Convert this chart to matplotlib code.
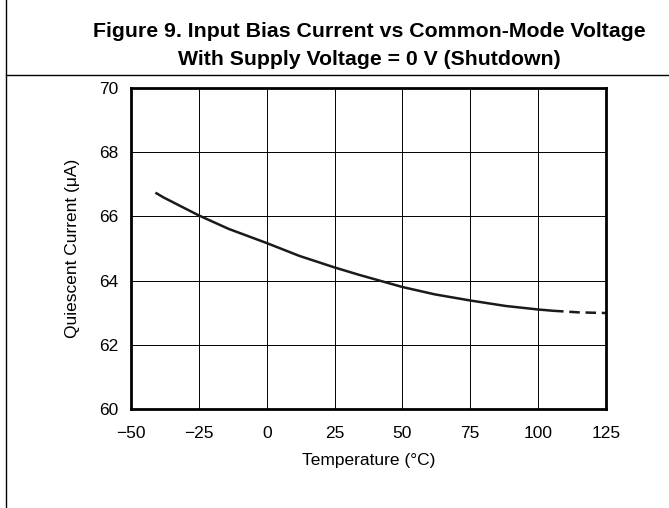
import matplotlib
matplotlib.use('Agg')
import matplotlib.pyplot as plt
from matplotlib.lines import Line2D

plt.rcParams['font.family'] = ['Liberation Sans', 'DejaVu Sans']

# values
temp_solid = [-41, -38, -25, -14, 0, 12, 25, 34, 50, 62, 75, 88, 100, 105.5]
iq_solid = [66.74, 66.59, 66.03, 65.61, 65.17, 64.77, 64.41, 64.18,
            63.80, 63.57, 63.38, 63.21, 63.10, 63.06]
temp_dash = [105.5, 115, 125]
iq_dash = [63.06, 63.01, 62.99]

x_ticks = [-50, -25, 0, 25, 50, 75, 100, 125]
x_labels = ['\u221250', '\u221225', '0', '25', '50', '75', '100', '125']
y_ticks = [60, 62, 64, 66, 68, 70]

title = ('Figure 9. Input Bias Current vs Common-Mode Voltage\n'
         'With Supply Voltage = 0 V (Shutdown)')

W, H = 669, 508
fig = plt.figure(figsize=(W / 100, H / 100), dpi=100)

# outer frame lines (left edge and line under the title)
fig.add_artist(Line2D([6.5 / W, 6.5 / W], [0, 1], transform=fig.transFigure,
                      color='black', lw=1.0))
fig.add_artist(Line2D([6.5 / W, 1], [1 - 75 / H, 1 - 75 / H],
                      transform=fig.transFigure, color='black', lw=1.0))

fig.text(369 / W, 1 - 45.5 / H, title, ha='center', va='center',
         fontsize=15.3, fontweight='bold', linespacing=1.6)

ax = fig.add_axes([131 / W, (H - 409) / H, 475 / W, 321 / H])
ax.plot(temp_solid, iq_solid, color='#1a1a1a', lw=1.8, solid_capstyle='butt')
ax.plot(temp_dash, iq_dash, color='#1a1a1a', lw=1.8, dashes=(4.2, 2.3))

ax.set_xlim(-50, 125)
ax.set_ylim(60, 70)
ax.set_xticks(x_ticks)
ax.set_xticklabels(x_labels)
ax.set_yticks(y_ticks)
ax.grid(True, color='black', lw=0.7)
ax.tick_params(length=0, labelsize=12.5)
ax.tick_params(axis='x', pad=12)
ax.tick_params(axis='y', pad=9)
for s in ax.spines.values():
    s.set_linewidth(2.0)

ax.set_xlabel('Temperature (\u00b0C)', fontsize=12.5, labelpad=9)
ax.set_ylabel('Quiescent Current (\u03bcA)', fontsize=12.5, labelpad=14)

fig.savefig('out.png', dpi=100)
